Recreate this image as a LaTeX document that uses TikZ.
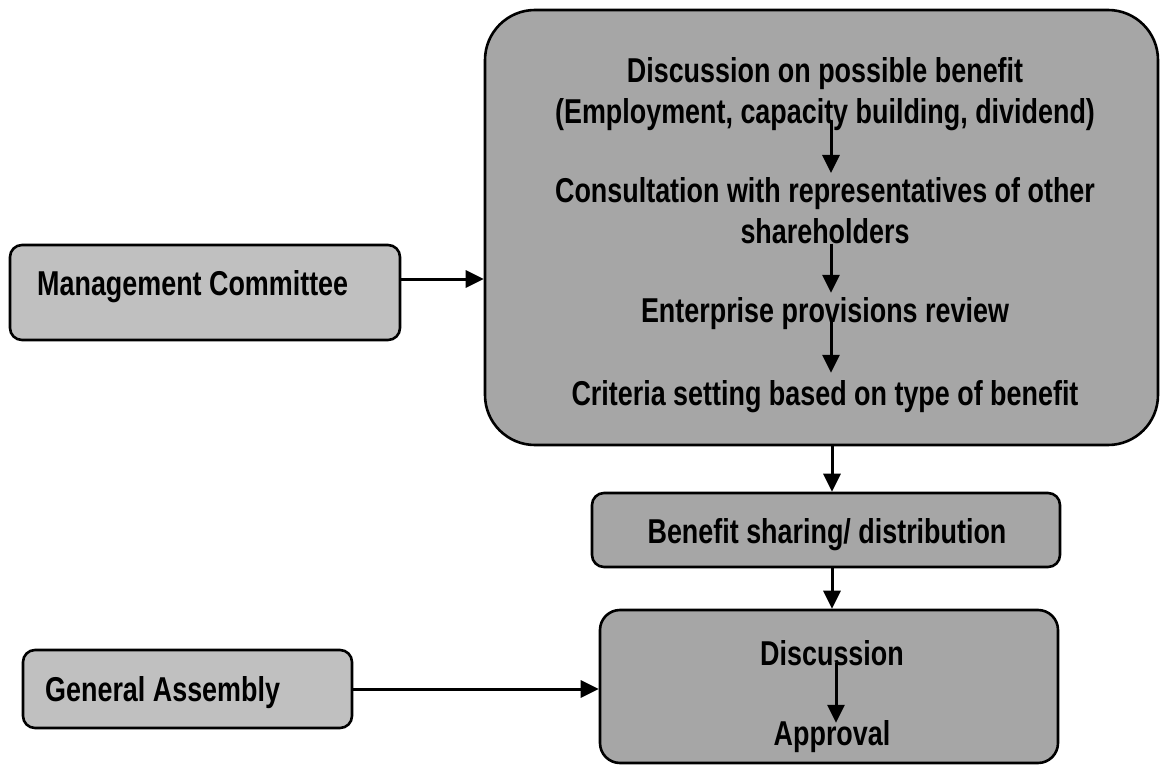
\documentclass[tikz,border=0pt]{standalone}
\usepackage{fontspec}
\setmainfont{Liberation Sans}[FakeStretch=0.78]
\usetikzlibrary{arrows.meta,calc}
\definecolor{boxlight}{HTML}{C0C0C0}
\definecolor{boxdark}{HTML}{A6A6A6}
\begin{document}
\begin{tikzpicture}[x=1pt,y=-1pt,
  box/.style={draw=black, line width=2.6pt, rounded corners=12pt, inner sep=0pt},
  light/.style={box, fill=boxlight},
  dark/.style={box, fill=boxdark},
  lbl/.style={font=\bfseries\fontsize{34.5}{41}\selectfont, inner sep=0pt, align=center},
  arr/.style={line width=3pt, -{Triangle[length=18pt,width=17pt]}}]
\useasboundingbox (0,0) rectangle (1160,765);

% boxes
\node[light, minimum width=390pt, minimum height=95pt] (mc) at (205,292.5) {};
\node[light, minimum width=329pt, minimum height=78pt] (ga) at (187.5,689) {};
\node[dark, rounded corners=50pt, minimum width=673pt, minimum height=435pt] (big) at (821.5,227.5) {};
\node[dark, minimum width=468pt, minimum height=74pt] (ben) at (826,530) {};
\node[dark, rounded corners=20pt, minimum width=458pt, minimum height=153pt] (bot) at (829,686.5) {};

% labels
\node[lbl, anchor=base west] (mct) at (37,295) {Management Committee};
\node[lbl, anchor=base west] (gat) at (45,701) {General Assembly};
\node[lbl, anchor=north] (s1) at (825,57) {Discussion on possible benefit\\(Employment, capacity building, dividend)};
\node[lbl, anchor=north] (s2) at (825,177) {Consultation with representatives of other\\shareholders};
\node[lbl, anchor=base] (s3) at (825,322) {Enterprise provisions review};
\node[lbl, anchor=base] (s4) at (825,405) {Criteria setting based on type of benefit};
\node[lbl, anchor=base] (bent) at (827,543) {Benefit sharing/ distribution};
\node[lbl, anchor=base] (d1) at (832,665) {Discussion};
\node[lbl, anchor=base] (d2) at (832,745) {Approval};

% connectors
\coordinate (ax) at (832,0);
\coordinate (ix) at (831,0);
\coordinate (dx) at (836,0);
\coordinate (mcout) at ($(mc.east)+(0,13.5pt)$);
\draw[arr] (mcout) -- (mcout -| big.west);
\draw[arr] (ga.east) -- (ga.east -| bot.west);
\draw[arr] (big.south -| ax) -- (ben.north -| ax);
\draw[arr] (ben.south -| ax) -- (bot.north -| ax);
\draw[arr, shorten <=-10pt, shorten >=4pt] (s1.south -| ix) -- (s2.north -| ix);
\draw[arr, shorten >=4pt] (s2.south -| ix) -- (s3.north -| ix);
\draw[arr, shorten <=-9pt, shorten >=7pt] (s3.south -| ix) -- (s4.north -| ix);
\draw[arr, shorten <=-3pt, shorten >=-3pt] (d1.south -| dx) -- (d2.north -| dx);
\end{tikzpicture}
\end{document}
